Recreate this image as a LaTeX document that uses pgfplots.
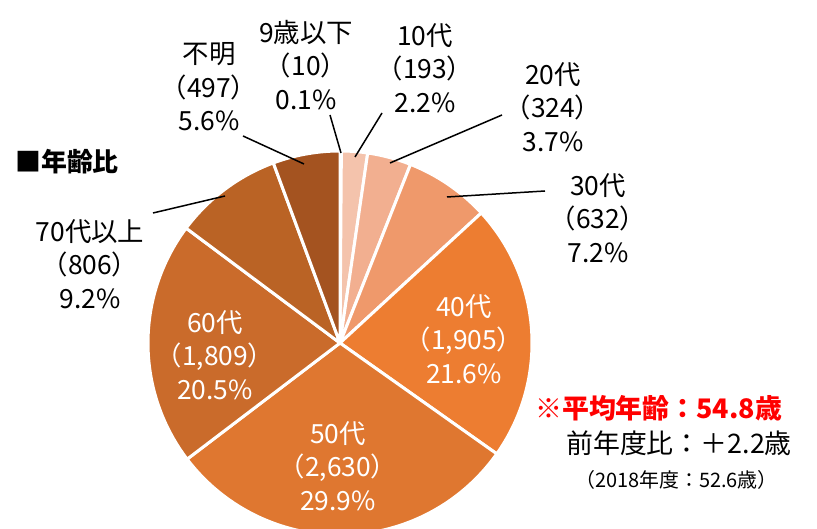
\documentclass[border=0pt]{standalone}
\usepackage{fontspec}
\setmainfont{Noto Sans CJK JP}
\usepackage{pgfplots}
\pgfplotsset{compat=1.18}

\definecolor{c1}{HTML}{F6CDBB}
\definecolor{c2}{HTML}{F4C3AC}
\definecolor{c3}{HTML}{F2AF90}
\definecolor{c4}{HTML}{EF996B}
\definecolor{c5}{HTML}{ED7D31}
\definecolor{c6}{HTML}{DF7730}
\definecolor{c7}{HTML}{CA6B2B}
\definecolor{c8}{HTML}{BA6325}
\definecolor{c9}{HTML}{A45320}

% counts per age group
\def\nA{10}\def\nB{193}\def\nC{324}\def\nD{632}\def\nE{1905}
\def\nF{2630}\def\nG{1809}\def\nH{806}\def\nI{497}
\pgfmathsetmacro\tot{\nA+\nB+\nC+\nD+\nE+\nF+\nG+\nH+\nI}
\def\cx{340}\def\cy{186}\def\R{192}

% #1 cumulative count before slice, #2 count, #3 colour
\newcommand\slice[3]{%
  \addplot[fill=#3, draw=white, line width=3bp, line join=round,
    domain={90-360*(#1+#2)/\tot}:{90-360*(#1)/\tot}, samples=90, variable=\t]
    ({\cx+\R*cos(\t)},{\cy+\R*sin(\t)}) -- (axis cs:\cx,\cy) -- cycle;}

\newcommand\lbl{\fontsize{26.5}{33.5}\selectfont}

\begin{document}
\begin{tikzpicture}
\begin{axis}[x=1bp, y=1bp, xmin=0, xmax=817, ymin=0, ymax=529,
  hide axis, clip=true]
\slice{0}{\nA}{c1}
\slice{\nA}{\nB}{c2}
\slice{\nA+\nB}{\nC}{c3}
\slice{\nA+\nB+\nC}{\nD}{c4}
\slice{\nA+\nB+\nC+\nD}{\nE}{c5}
\slice{\nA+\nB+\nC+\nD+\nE}{\nF}{c6}
\slice{\nA+\nB+\nC+\nD+\nE+\nF}{\nG}{c7}
\slice{\nA+\nB+\nC+\nD+\nE+\nF+\nG}{\nH}{c8}
\slice{\nA+\nB+\nC+\nD+\nE+\nF+\nG+\nH}{\nI}{c9}

% leader lines
\draw[line width=1.5bp] (axis cs:330,414) -- (axis cs:341,376);
\draw[line width=1.5bp] (axis cs:382,416) -- (axis cs:355,372);
\draw[line width=1.5bp] (axis cs:502,414) -- (axis cs:390,366);
\draw[line width=1.5bp] (axis cs:545,338) -- (axis cs:447,332);
\draw[line width=1.5bp] (axis cs:243,393) -- (axis cs:304,365);
\draw[line width=1.5bp] (axis cs:153,316) -- (axis cs:225,333);

% outside labels
\node[align=center, font=\lbl] at (axis cs:306,464) {9歳以下\\（10）\\0.1\%};
\node[align=center, font=\lbl] at (axis cs:425,461) {10代\\（193）\\2.2\%};
\node[align=center, font=\lbl] at (axis cs:553,422) {20代\\（324）\\3.7\%};
\node[align=center, font=\lbl] at (axis cs:598,311) {30代\\（632）\\7.2\%};
\node[align=center, font=\lbl] at (axis cs:209,442) {不明\\（497）\\5.6\%};
\node[align=center, font=\lbl] at (axis cs:90,265) {70代以上\\（806）\\9.2\%};
% inside labels
\node[align=center, font=\lbl, text=white] at (axis cs:464,190) {40代\\（1,905）\\21.6\%};
\node[align=center, font=\lbl, text=white] at (axis cs:338,63) {50代\\（2,630）\\29.9\%};
\node[align=center, font=\lbl, text=white] at (axis cs:215,174) {60代\\（1,809）\\20.5\%};

% titles and notes
\node[anchor=west, font=\fontsize{26}{30}\selectfont\bfseries, inner sep=0pt] at (axis cs:15,367) {■年齢比};
\node[anchor=west, font=\fontsize{27}{30}\selectfont\bfseries, text=red, inner sep=0pt] at (axis cs:535,121) {※平均年齢：54.8歳};
\node[anchor=west, font=\fontsize{27}{30}\selectfont, inner sep=0pt] at (axis cs:566,86) {前年度比：＋2.2歳};
\node[anchor=west, font=\fontsize{20}{22}\selectfont, inner sep=0pt] at (axis cs:575,49) {（2018年度：52.6歳）};
\end{axis}
\pgfresetboundingbox
\path (current axis.south west) rectangle (current axis.north east);
\end{tikzpicture}
\end{document}
